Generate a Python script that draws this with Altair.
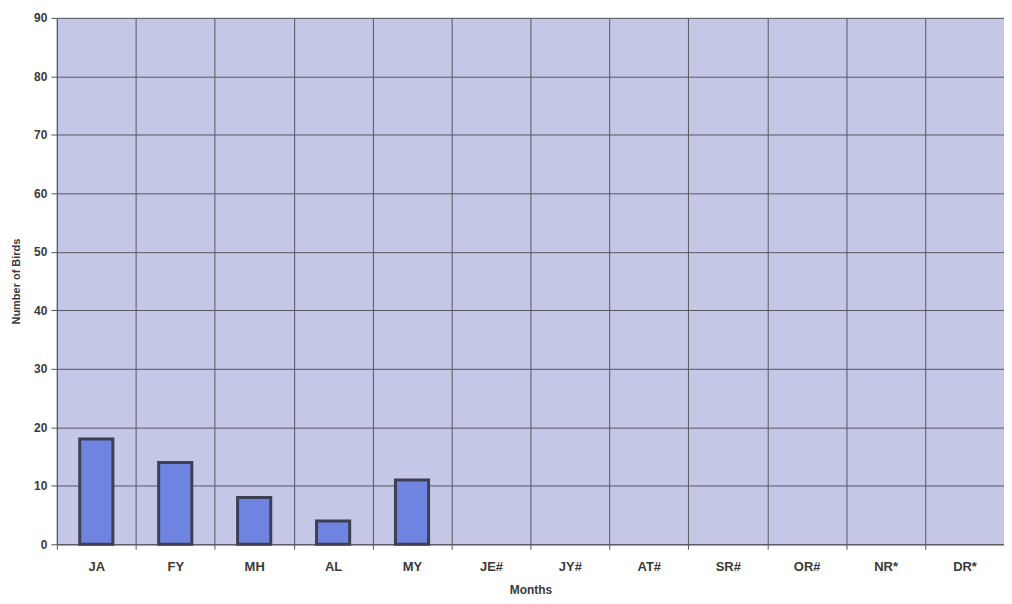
import altair as alt
import pandas as pd

months = ["JA", "FY", "MH", "AL", "MY", "JE#", "JY#", "AT#", "SR#", "OR#", "NR*", "DR*"]
birds = [18, 14, 8, 4, 11, None, None, None, None, None, None, None]

df = pd.DataFrame({"month": months, "birds": birds})

chart = alt.Chart(df).mark_bar(
    width=alt.RelativeBandSize(0.42),
    fill="#6f84e0",
    stroke="#3d3f52",
    strokeWidth=3,
).encode(
    x=alt.X("month:N", sort=months,
            scale=alt.Scale(paddingInner=0, paddingOuter=0),
            axis=alt.Axis(title="Months", labelAngle=0, tickBand="extent",
                          grid=True, gridColor="#55575f", gridOpacity=1, gridWidth=1,
                          domainColor="#55575f", tickColor="#55575f", tickSize=5,
                          labelFont="Liberation Sans", labelFontWeight="bold",
                          labelFontSize=13, labelColor="#3a3a3a", labelPadding=11,
                          titleFont="Liberation Sans", titleFontWeight="bold",
                          titleFontSize=12, titleColor="#3a3a3a", titlePadding=11)),
    y=alt.Y("birds:Q",
            scale=alt.Scale(domain=[0, 90], nice=False),
            axis=alt.Axis(title="Number of Birds", values=list(range(0, 91, 10)),
                          grid=True, gridColor="#55575f", gridOpacity=1, gridWidth=1,
                          domainColor="#55575f", tickColor="#55575f", tickSize=6,
                          labelFont="Liberation Sans", labelFontWeight="bold",
                          labelFontSize=12, labelColor="#3a3a3a", labelPadding=4,
                          titleFont="Liberation Sans", titleFontWeight="bold",
                          titleFontSize=11, titleColor="#3a3a3a", titlePadding=12)),
).properties(
    width=950,
    height=528,
    autosize=alt.AutoSizeParams(type="none"),
    padding={"left": 49, "top": 9, "right": 0, "bottom": 58},
    background="white",
).configure_view(
    fill="#c4c7e6",
    stroke="#b8bbd4",
)

chart.save("out.html", embed_options={"renderer": "svg", "actions": False})
